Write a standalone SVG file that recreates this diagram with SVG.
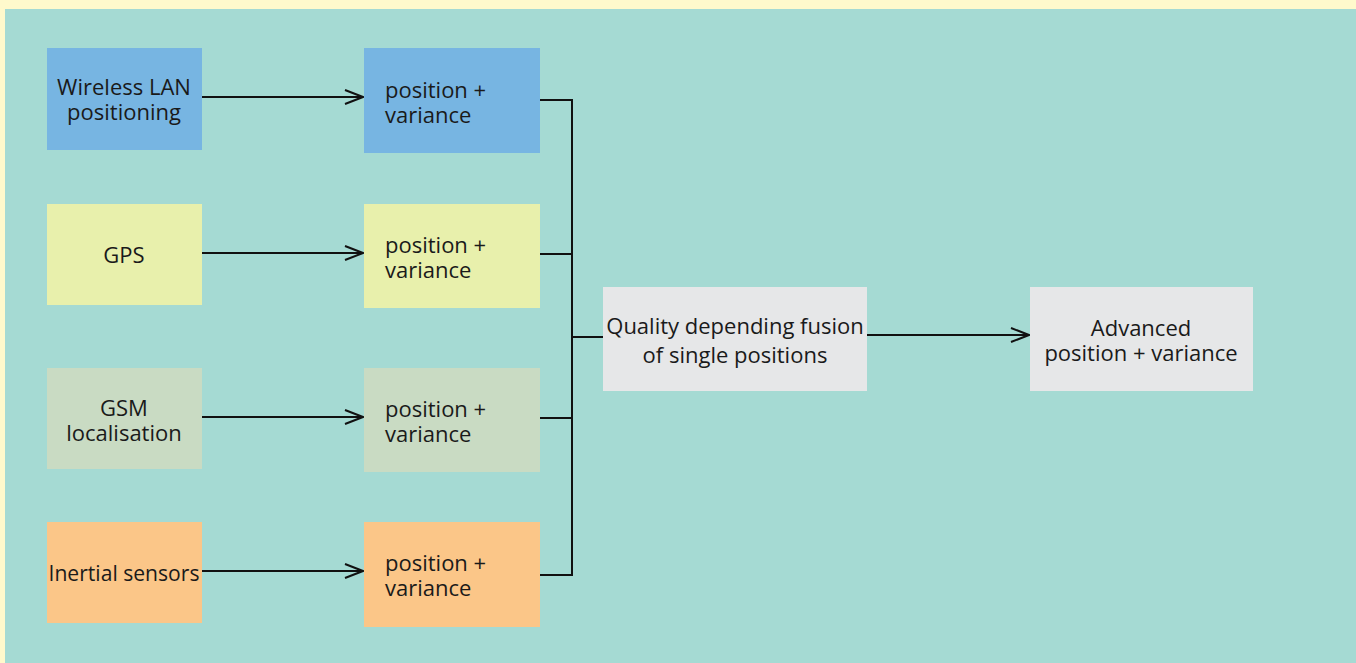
<svg xmlns="http://www.w3.org/2000/svg" width="1356" height="663" viewBox="0 0 1356 663">
<defs>
<style>
.t{font-family:"Open Sans","Liberation Sans",sans-serif;font-size:22px;fill:#1a1a1a}
.c{text-anchor:middle}
.ln{stroke:#111;stroke-width:2;fill:none}
</style>
<marker id="ar" viewBox="0 0 20 20" refX="19" refY="10" markerWidth="20" markerHeight="20" markerUnits="userSpaceOnUse" orient="auto">
<path d="M1,3 L19,10 L1,17" fill="none" stroke="#111" stroke-width="2"/>
</marker>
</defs>
<rect x="0" y="0" width="1356" height="663" fill="#FFF9CC"/>
<rect x="5" y="9" width="1351" height="654" fill="#A5DAD3"/>
<g id="wlan"><rect x="47" y="48" width="155" height="102" fill="#77B5E2"/><text class="t c" x="124" y="95">Wireless LAN</text><text class="t c" x="124" y="120">positioning</text></g>
<g id="pv1"><rect x="364" y="48" width="176" height="105" fill="#77B5E2"/><text class="t" x="385" y="98">position +</text><text class="t" x="385" y="123">variance</text></g>
<g id="gps"><rect x="47" y="204" width="155" height="101" fill="#E8F0AC"/><text class="t c" x="124" y="263">GPS</text></g>
<g id="pv2"><rect x="364" y="204" width="176" height="104" fill="#E8F0AC"/><text class="t" x="385" y="253">position +</text><text class="t" x="385" y="278">variance</text></g>
<g id="gsm"><rect x="47" y="368" width="155" height="101" fill="#C9DBC3"/><text class="t c" x="124" y="416">GSM</text><text class="t c" x="124" y="441">localisation</text></g>
<g id="pv3"><rect x="364" y="368" width="176" height="104" fill="#C9DBC3"/><text class="t" x="385" y="417">position +</text><text class="t" x="385" y="442">variance</text></g>
<g id="inertial"><rect x="47" y="522" width="155" height="101" fill="#FBC688"/><text class="t c" x="124" y="581" textLength="151" lengthAdjust="spacingAndGlyphs">Inertial sensors</text></g>
<g id="pv4"><rect x="364" y="522" width="176" height="105" fill="#FBC688"/><text class="t" x="385" y="571">position +</text><text class="t" x="385" y="596">variance</text></g>
<g id="fusion"><rect x="603" y="287" width="264" height="104" fill="#E6E7E8"/><text class="t c" x="735" y="334">Quality depending fusion</text><text class="t c" x="735" y="363">of single positions</text></g>
<g id="advanced"><rect x="1030" y="287" width="223" height="104" fill="#E6E7E8"/><text class="t c" x="1141" y="336">Advanced</text><text class="t c" x="1141" y="361">position + variance</text></g>
<g id="connectors">
<line class="ln" x1="202" y1="97" x2="363" y2="97" marker-end="url(#ar)"/>
<line class="ln" x1="202" y1="253" x2="363" y2="253" marker-end="url(#ar)"/>
<line class="ln" x1="202" y1="417" x2="363" y2="417" marker-end="url(#ar)"/>
<line class="ln" x1="202" y1="571" x2="363" y2="571" marker-end="url(#ar)"/>
<polyline class="ln" points="540,100 572,100 572,575 540,575"/>
<line class="ln" x1="540" y1="254" x2="572" y2="254"/>
<line class="ln" x1="540" y1="418" x2="572" y2="418"/>
<line class="ln" x1="572" y1="337" x2="603" y2="337"/>
<line class="ln" x1="867" y1="335" x2="1029" y2="335" marker-end="url(#ar)"/>
</g>
</svg>
